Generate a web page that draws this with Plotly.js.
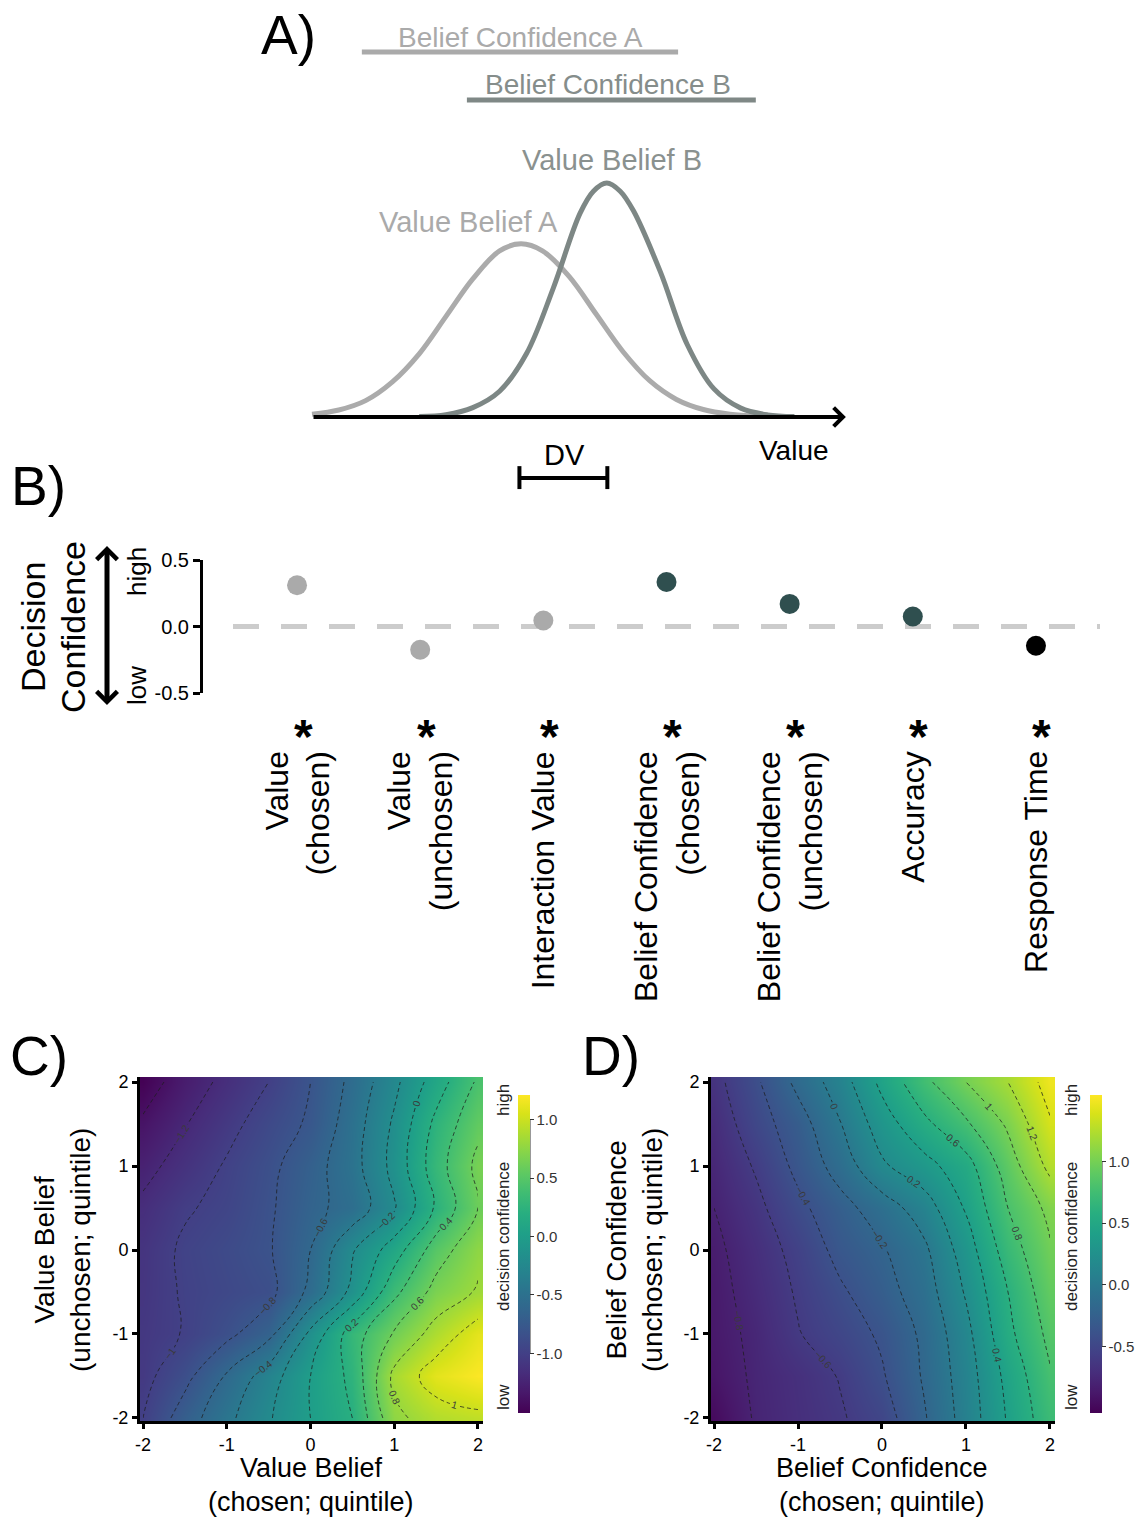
<!DOCTYPE html>
<html>
<head>
<meta charset="utf-8">
<script src="https://cdn.plot.ly/plotly-3.0.1.min.js"></script>
<style>html,body{margin:0;padding:0;background:#fff;}#chart{width:1141px;height:1518px;}</style>
</head>
<body>
<div id="chart"></div>
<script>
// ---------------- Panel A: value belief distributions ----------------
const beliefA_value   = [0, 0.5, 1, 1.5, 2, 2.5, 3, 3.5, 3.9, 4.3, 4.8, 5.3, 5.8, 6.3, 6.8, 7.3, 7.8, 8.3];
const beliefA_density = [0.012, 0.03, 0.07, 0.15, 0.27, 0.43, 0.59, 0.71, 0.74, 0.71, 0.60, 0.44, 0.28, 0.155, 0.075, 0.032, 0.012, 0.004];
const beliefB_value   = [2.0, 2.5, 3.0, 3.5, 4.0, 4.5, 5.0, 5.25, 5.5, 5.75, 6.0, 6.5, 7.0, 7.5, 8.0, 8.5, 9.0];
const beliefB_density = [0.002, 0.01, 0.04, 0.11, 0.27, 0.55, 0.87, 0.965, 1.0, 0.965, 0.88, 0.62, 0.31, 0.12, 0.038, 0.009, 0.002];
const meanA = 3.87, meanB = 5.51;
const confA_range = [0.93, 6.83];
const confB_range = [2.89, 8.28];
const axisEnd = 9.96;

// ---------------- Panel B: regression estimates ----------------
const predictors = ['Value (chosen)', 'Value (unchosen)', 'Interaction Value', 'Belief Confidence (chosen)', 'Belief Confidence (unchosen)', 'Accuracy', 'Response Time'];
const predictorLabels = ['Value<br>(chosen)', 'Value<br>(unchosen)', 'Interaction Value', 'Belief Confidence<br>(chosen)', 'Belief Confidence<br>(unchosen)', 'Accuracy', 'Response Time'];
const estimates = [0.31, -0.175, 0.045, 0.335, 0.17, 0.075, -0.145];
const significant = [true, true, true, true, true, true, true];
const pointColors = ['#aaaaaa', '#aaaaaa', '#aaaaaa', '#2f4f4f', '#2f4f4f', '#2f4f4f', '#000000'];
const yTicksB = [-0.5, 0, 0.5];
const yTickTextB = ['-0.5', '0.0', '0.5'];

// ---------------- Panels C & D: decision confidence surfaces ----------------
const quintiles = [-2, -1.5, -1, -0.5, 0, 0.5, 1, 1.5, 2];
const quintileTicks = [-2, -1, 0, 1, 2];
const quintileTickText = ['-2', '-1', '0', '1', '2'];
// rows: unchosen (y) from -2 to 2 ; columns: chosen (x) from -2 to 2
const zValueBelief = [
  [-1.00, -0.70, -0.45, -0.22, 0.00, 0.20, 0.75, 0.90, 0.95],
  [-1.06, -0.86, -0.58, -0.30, 0.00, 0.25, 0.85, 1.10, 1.20],
  [-1.07, -0.99, -0.85, -0.66, -0.15, 0.30, 0.62, 0.88, 1.10],
  [-1.09, -0.98, -0.92, -0.86, -0.55, -0.14, 0.35, 0.67, 0.82],
  [-1.10, -0.97, -0.90, -0.82, -0.60, -0.22, 0.10, 0.50, 0.75],
  [-1.16, -1.02, -0.95, -0.83, -0.65, -0.53, -0.22, 0.23, 0.60],
  [-1.26, -1.12, -0.98, -0.85, -0.68, -0.48, -0.14, 0.31, 0.65],
  [-1.37, -1.21, -1.06, -0.91, -0.77, -0.50, -0.17, 0.25, 0.55],
  [-1.50, -1.30, -1.15, -1.00, -0.80, -0.55, -0.25, 0.10, 0.43]
];
const zBeliefConf = [
  [-0.97, -0.78, -0.70, -0.62, -0.50, -0.22, 0.08, 0.42, 0.72],
  [-0.90, -0.77, -0.69, -0.59, -0.42, -0.18, 0.10, 0.46, 0.78],
  [-0.87, -0.76, -0.61, -0.50, -0.37, -0.16, 0.14, 0.55, 0.85],
  [-0.86, -0.73, -0.58, -0.43, -0.28, -0.10, 0.22, 0.60, 0.92],
  [-0.84, -0.70, -0.54, -0.34, -0.22, -0.04, 0.30, 0.70, 0.98],
  [-0.80, -0.65, -0.45, -0.27, -0.10, 0.10, 0.42, 0.80, 1.05],
  [-0.76, -0.58, -0.35, -0.12, 0.17, 0.33, 0.52, 0.90, 1.25],
  [-0.72, -0.49, -0.29, -0.01, 0.30, 0.55, 0.77, 1.03, 1.38],
  [-0.66, -0.43, -0.15, 0.10, 0.45, 0.75, 1.00, 1.20, 1.48]
];
const cbTicksC = [-1, -0.5, 0, 0.5, 1];
const cbTickTextC = ['-1.0', '-0.5', '0.0', '0.5', '1.0'];
const cbTicksD = [-0.5, 0, 0.5, 1];
const cbTickTextD = ['-0.5', '0.0', '0.5', '1.0'];

// ---------------- layout helpers ----------------
const W = 1141, H = 1518;
const X = px => px / W;
const Y = py => 1 - py / H;
const FONT = 'Liberation Sans, Arial, Helvetica, sans-serif';

const traces = [];
// Panel A curves
traces.push({type:'scatter', mode:'lines', x:beliefA_value, y:beliefA_density, xaxis:'x', yaxis:'y',
  line:{color:'#ababab', width:5, shape:'spline', smoothing:1}, hoverinfo:'skip'});
traces.push({type:'scatter', mode:'lines', x:beliefB_value, y:beliefB_density, xaxis:'x', yaxis:'y',
  line:{color:'#7d8785', width:5, shape:'spline', smoothing:1}, hoverinfo:'skip'});
// Panel B points
traces.push({type:'scatter', mode:'markers', x:predictors, y:estimates, xaxis:'x2', yaxis:'y2',
  marker:{size:20, color:pointColors, line:{width:0}}, hoverinfo:'x+y'});
// Panel C
traces.push({type:'heatmap', x:quintiles, y:quintiles, z:zValueBelief, xaxis:'x3', yaxis:'y3',
  colorscale:'Viridis', zmin:-1.51, zmax:1.21, zsmooth:'best',
  colorbar:{x:X(518), xanchor:'left', xpad:0, y:Y(1254), yanchor:'middle', ypad:0,
    len:318, lenmode:'pixels', thickness:12, thicknessmode:'pixels', outlinewidth:0,
    ticks:'outside', ticklen:4, tickwidth:1, tickcolor:'#333',
    tickvals:cbTicksC, ticktext:cbTickTextC, tickfont:{size:15, color:'#333', family:FONT}}});
traces.push({type:'contour', x:quintiles, y:quintiles, z:zValueBelief, xaxis:'x3', yaxis:'y3',
  showscale:false, hoverinfo:'skip',
  contours:{coloring:'none', start:-1.4, end:1.2, size:0.2, showlabels:true,
    labelfont:{size:10, color:'#3a3a3a', family:FONT}},
  line:{color:'rgba(30,30,30,0.75)', width:1, dash:'4px,3px', smoothing:1.3}});
// Panel D
traces.push({type:'heatmap', x:quintiles, y:quintiles, z:zBeliefConf, xaxis:'x4', yaxis:'y4',
  colorscale:'Viridis', zmin:-1.04, zmax:1.54, zsmooth:'best',
  colorbar:{x:X(1090), xanchor:'left', xpad:0, y:Y(1254), yanchor:'middle', ypad:0,
    len:318, lenmode:'pixels', thickness:12, thicknessmode:'pixels', outlinewidth:0,
    ticks:'outside', ticklen:4, tickwidth:1, tickcolor:'#333',
    tickvals:cbTicksD, ticktext:cbTickTextD, tickfont:{size:15, color:'#333', family:FONT}}});
traces.push({type:'contour', x:quintiles, y:quintiles, z:zBeliefConf, xaxis:'x4', yaxis:'y4',
  showscale:false, hoverinfo:'skip',
  contours:{coloring:'none', start:-1.0, end:1.4, size:0.2, showlabels:true,
    labelfont:{size:10, color:'#3a3a3a', family:FONT}},
  line:{color:'rgba(30,30,30,0.75)', width:1, dash:'4px,3px', smoothing:1.3}});

const ann = [];
function txt(text, px, py, size, color, extra) {
  ann.push(Object.assign({text:text, x:X(px), y:Y(py), xref:'paper', yref:'paper', showarrow:false,
    xanchor:'center', yanchor:'middle', font:{size:size, color:color || '#000', family:FONT}}, extra || {}));
}
// panel letters
txt('A)', 288, 35, 55);
txt('B)', 38, 486, 55);
txt('C)', 39, 1056, 55);
txt('D)', 611, 1056, 55);
// panel A texts
txt('Belief Confidence A', 520, 37, 28, '#aaaaaa');
txt('Belief Confidence B', 608, 84, 28, '#858d8b');
txt('Value Belief B', 612, 160, 29, '#8a918f');
txt('Value Belief A', 468, 222, 29, '#aaaaaa');
txt('Value', 794, 450, 28, '#000');
txt('DV', 564, 455, 29, '#000');
// panel A axis arrow
ann.push({x:axisEnd, y:0, xref:'x', yref:'y', ax:0, ay:0, axref:'x', ayref:'y', text:' ',
  font:{size:1}, showarrow:true, arrowhead:4, arrowsize:0.9, arrowwidth:4, arrowcolor:'#000'});
// panel B y title
txt('Decision', 33, 627, 34, '#000', {textangle:-90});
txt('Confidence', 73, 627, 34, '#000', {textangle:-90});
txt('high', 137, 572, 26, '#000', {textangle:-90});
txt('low', 137, 686, 26, '#000', {textangle:-90});
ann.push({x:X(107), y:Y(546), xref:'paper', yref:'paper', ax:0, ay:161, axref:'pixel', ayref:'pixel',
  text:' ', font:{size:1}, showarrow:true, arrowside:'end+start', arrowhead:4, startarrowhead:4,
  arrowsize:0.8, startarrowsize:0.8, arrowwidth:5, arrowcolor:'#000'});
// panel B category labels and significance stars
predictors.forEach((p, i) => {
  ann.push({text:predictorLabels[i], x:p, xref:'x2', y:Y(749), yref:'paper', xanchor:'center', yanchor:'top',
    textangle:-90, align:'right', showarrow:false, font:{size:32, color:'#000', family:FONT}});
  if (significant[i]) {
    ann.push({text:'*', x:p, xref:'x2', xshift:6, y:Y(736), yref:'paper', xanchor:'center', yanchor:'middle',
      showarrow:false, font:{size:48, color:'#000', family:FONT, weight:'bold'}});
  }
});
// panel C/D axis titles
txt('Value Belief', 311, 1468, 27);
txt('(chosen; quintile)', 311, 1502, 27);
txt('Value Belief<br>(unchosen; quintile)', 62, 1250, 28, '#000', {textangle:-90});
txt('Belief Confidence', 882, 1468, 27);
txt('(chosen; quintile)', 882, 1502, 27);
txt('Belief Confidence<br>(unchosen; quintile)', 634, 1250, 28, '#000', {textangle:-90});
// colorbar labels
[503, 1071].forEach(cx => {
  txt('high', cx, 1100, 17, '#222', {textangle:-90});
  txt('decision confidence', cx, 1237, 17, '#222', {textangle:-90});
  txt('low', cx, 1397, 17, '#222', {textangle:-90});
});

const shapes = [
  // belief confidence bars
  {type:'line', xref:'x', yref:'y', x0:confA_range[0], x1:confA_range[1], y0:1.56, y1:1.56, line:{color:'#aaaaaa', width:5}},
  {type:'line', xref:'x', yref:'y', x0:confB_range[0], x1:confB_range[1], y0:1.355, y1:1.355, line:{color:'#7f8886', width:5}},
  // DV bracket
  {type:'line', xref:'x', yref:'y', x0:meanA, x1:meanB, y0:-0.261, y1:-0.261, line:{color:'#000', width:4}},
  {type:'line', xref:'x', yref:'y', x0:meanA, x1:meanA, y0:-0.21, y1:-0.308, line:{color:'#000', width:4}},
  {type:'line', xref:'x', yref:'y', x0:meanB, x1:meanB, y0:-0.21, y1:-0.308, line:{color:'#000', width:4}},
  // zero reference line panel B
  {type:'line', xref:'x2 domain', yref:'y2', x0:0, x1:1, y0:0, y1:0, layer:'below',
    line:{color:'#cccccc', width:5, dash:'26px,22px'}},
  // colorbar spines
  {type:'line', xref:'paper', yref:'paper', x0:X(530), x1:X(530), y0:Y(1119), y1:Y(1353), line:{color:'#333', width:1}},
  {type:'line', xref:'paper', yref:'paper', x0:X(1102), x1:X(1102), y0:Y(1162), y1:Y(1347), line:{color:'#333', width:1}}
];

function heatAxis(domain, anchor) {
  return {domain:domain, anchor:anchor, range:[-2.036, 2.06], showline:true, linewidth:3, linecolor:'#000',
    ticks:'outside', ticklen:5, tickwidth:3, tickcolor:'#000', tickvals:quintileTicks, ticktext:quintileTickText,
    tickfont:{size:18, color:'#000', family:FONT}, showgrid:false, zeroline:false, fixedrange:true};
}

const layout = {
  width:W, height:H, autosize:false, margin:{l:0, r:0, t:0, b:0},
  paper_bgcolor:'#ffffff', plot_bgcolor:'rgba(0,0,0,0)', showlegend:false,
  font:{family:FONT, color:'#000'},
  xaxis:{domain:[0,1], range:[-312/53.6, (W-312)/53.6], visible:false, fixedrange:true},
  yaxis:{domain:[Y(500),1], range:[(417-500)/234, 417/234], visible:false, fixedrange:true},
  xaxis2:{domain:[X(233), X(1100)], range:[-0.52, 6.52], anchor:'y2', visible:false, type:'category',
    categoryorder:'array', categoryarray:predictors, fixedrange:true},
  yaxis2:{domain:[Y(693), Y(560)], range:[-0.5, 0.5], anchor:'free', position:X(201), showline:true, linewidth:3,
    linecolor:'#000', ticks:'outside', ticklen:7, tickwidth:3, tickcolor:'#000', tickvals:yTicksB, ticktext:yTickTextB,
    tickfont:{size:20, color:'#000', family:FONT}, showgrid:false, zeroline:false, fixedrange:true},
  xaxis3:heatAxis([X(140), X(483)], 'y3'),
  yaxis3:heatAxis([Y(1421), Y(1077)], 'x3'),
  xaxis4:heatAxis([X(711), X(1055)], 'y4'),
  yaxis4:heatAxis([Y(1421), Y(1077)], 'x4'),
  annotations:ann,
  shapes:shapes
};

Plotly.newPlot('chart', traces, layout, {staticPlot:true, displayModeBar:false});
</script>
</body>
</html>
